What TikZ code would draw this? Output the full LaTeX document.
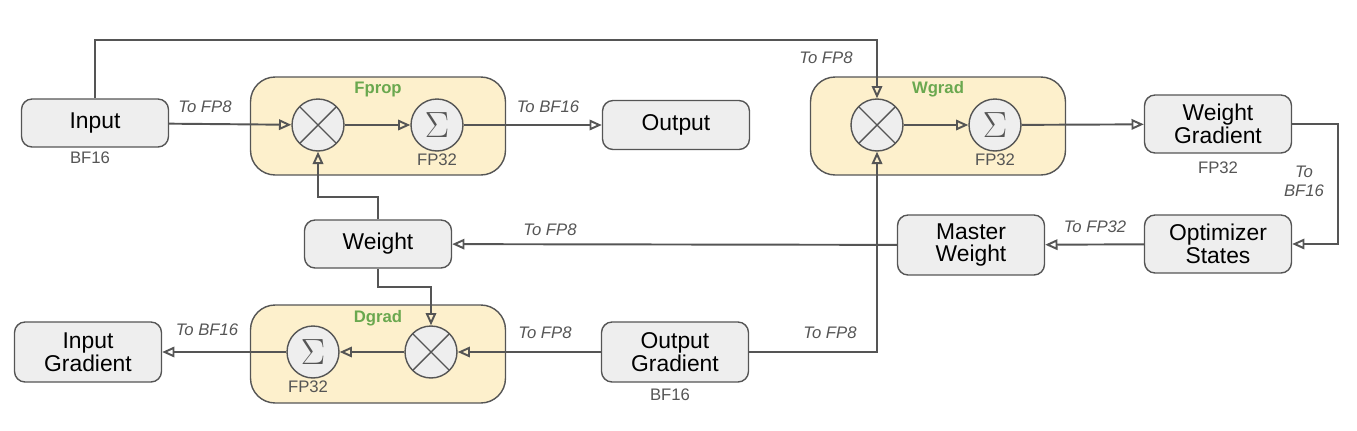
\documentclass[tikz,border=0pt]{standalone}
\usepackage{fontspec}
\setmainfont{Liberation Sans}
\usetikzlibrary{arrows.meta}
\definecolor{boxfill}{HTML}{EEEEEE}
\definecolor{linegray}{HTML}{555555}
\definecolor{stagefill}{HTML}{FDF0CC}
\definecolor{stagegreen}{HTML}{6AA84F}
\begin{document}
\begin{tikzpicture}[x=0.02cm,y=-0.02cm,
    every path/.style={draw=linegray,line width=1.1pt},
    >={Triangle[open,length=7pt,width=6pt]},
    blk/.style={rectangle,rounded corners=6pt,fill=boxfill,draw=linegray,thick,
        minimum width=2.94cm,minimum height=0.98cm,align=center,font=\fontsize{13}{15}\selectfont,inner sep=1pt},
    stage/.style={rectangle,rounded corners=14pt,fill=stagefill,draw=linegray,thick,minimum width=5.1cm,minimum height=1.96cm},
    op/.style={circle,fill=boxfill,draw=linegray,thick,minimum size=1.04cm,inner sep=0pt},
    mul/.style={op,path picture={
        \draw[linegray,thick] (path picture bounding box.south west)--(path picture bounding box.north east)
            (path picture bounding box.north west)--(path picture bounding box.south east);}},
    sum/.style={op,font=\fontsize{20}{20}\selectfont,text=linegray},
    lbl/.style={font=\itshape\fontsize{9.5}{11}\selectfont,text=linegray,align=center},
    prec/.style={font=\fontsize{9.5}{11}\selectfont,text=linegray},
    title/.style={font=\bfseries\fontsize{9.5}{11}\selectfont,text=stagegreen}]

    \useasboundingbox[draw=none] (0,0) rectangle (1357,430);

    % stages
    \node[stage] (fprop) at (378,126) {};
    \node[stage] (wgrad) at (938,126) {};
    \node[stage] (dgrad) at (378,354) {};
    \node[title] at (378,89) {Fprop};
    \node[title] at (938,89) {Wgrad};
    \node[title] at (378,318) {Dgrad};

    % operators
    \node[mul] (fmul) at (318,125) {};
    \node[sum] (fsum) at (437,125) {$\Sigma$};
    \node[mul] (wmul) at (877,125) {};
    \node[sum] (wsum) at (995,125) {$\Sigma$};
    \node[sum] (dsum) at (313,352) {$\Sigma$};
    \node[mul] (dmul) at (431,352) {};
    \node[prec] at (437,160) {FP32};
    \node[prec] at (995,160) {FP32};
    \node[prec] at (308,387) {FP32};

    % tensors
    \node[blk,minimum height=0.96cm] (input) at (95,123) {Input};
    \node[blk] (output) at (676,125) {Output};
    \node[blk,minimum height=1.16cm] (wgradout) at (1218,124) {Weight\\[-2pt]Gradient};
    \node[blk,minimum height=1.16cm] (optim) at (1218,244) {Optimizer\\[-2pt]States};
    \node[blk,minimum height=1.2cm] (master) at (971,245) {Master\\[-2pt]Weight};
    \node[blk,minimum height=0.96cm] (weight) at (378,244) {Weight};
    \node[blk,minimum height=1.2cm] (ingrad) at (88,352) {Input\\[-2pt]Gradient};
    \node[blk,minimum height=1.2cm] (outgrad) at (675,352) {Output\\[-2pt]Gradient};
    \node[prec] at (90,158) {BF16};
    \node[prec] at (1218,168) {FP32};
    \node[prec] at (670,395) {BF16};

    % connectors
    \draw[->] (input.north) |- (877,40) -- (wmul.north);
    \draw[->] (input) -- (fmul);
    \draw[->] (fmul) -- (fsum);
    \draw[->] (fsum) -- (output);
    \draw[->] (weight.north) |- (318,197) -- (fmul.south);
    \draw[->] (weight.south) |- (431,287) -- (dmul.north);
    \draw[->] (outgrad) -- (dmul);
    \draw[->] (dmul) -- (dsum);
    \draw[->] (dsum) -- (ingrad);
    \draw[->] (outgrad.east) -| (wmul.south);
    \draw[->] (wmul) -- (wsum);
    \draw[->] (wsum) -- (wgradout);
    \draw[->] (wgradout.east) -| (1338,244) -- (optim.east);
    \draw[->] (optim) -- (master);
    \draw[->] (master) -- (weight);

    % labels
    \node[lbl] at (205,107) {To FP8};
    \node[lbl] at (548,107) {To BF16};
    \node[lbl] at (826,58) {To FP8};
    \node[lbl] at (1304,181) {To\\BF16};
    \node[lbl] at (1095,227) {To FP32};
    \node[lbl] at (550,230) {To FP8};
    \node[lbl] at (207,330) {To BF16};
    \node[lbl] at (545,333) {To FP8};
    \node[lbl] at (830,333) {To FP8};

\end{tikzpicture}
\end{document}
